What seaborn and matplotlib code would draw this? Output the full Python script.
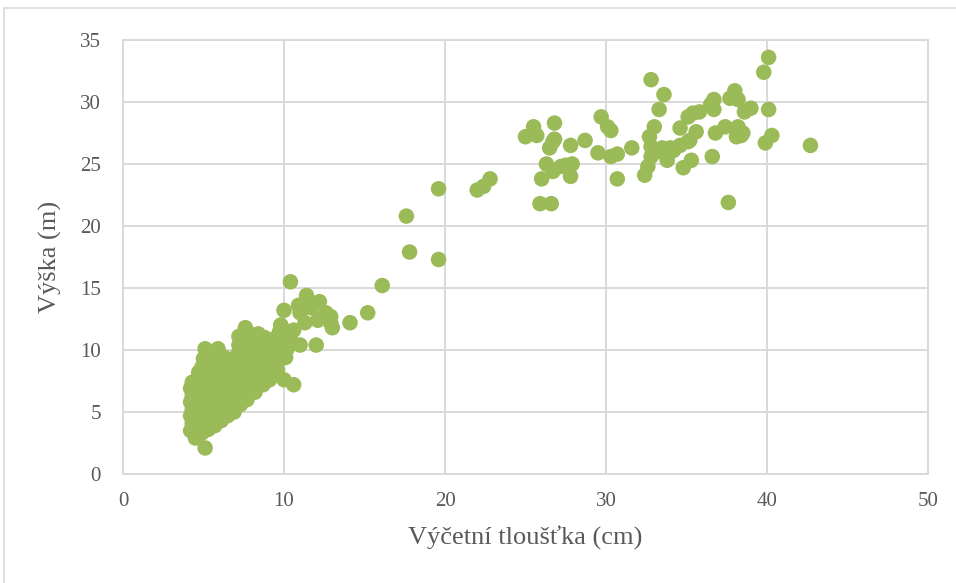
import matplotlib
matplotlib.use("Agg")
import matplotlib.pyplot as plt
from matplotlib.patches import Rectangle
import pandas as pd
import seaborn as sns

# Diameter at breast height (cm) and tree height (m), grouped by size class
dbh_small = [
    4.2, 4.3, 4.2, 4.3, 4.2, 4.3, 4.2, 4.3,
    4.5, 4.6, 4.5, 4.6, 4.5, 4.6, 4.5, 4.6, 4.7,
    5.1, 4.9, 5.0, 4.9, 5.0, 4.9, 5.0, 4.9, 5.0, 4.9, 5.0, 5.1,
    5.3, 5.4, 5.3, 5.4, 5.3, 5.4, 5.3, 5.4, 5.3, 5.4,
    5.7, 5.8, 5.7, 5.8, 5.7, 5.8, 5.7, 5.8, 5.7, 5.9,
    6.1, 6.2, 6.1, 6.2, 6.1, 6.2, 6.1, 6.2, 6.3,
    6.5, 6.6, 6.5, 6.6, 6.5, 6.6, 6.5, 6.7,
    6.9, 7.0, 6.9, 7.0, 6.9, 7.0, 6.9, 7.1, 7.2, 7.2,
    7.3, 7.4, 7.3, 7.4, 7.3, 7.4, 7.5, 7.4, 7.6, 7.6,
    7.7, 7.8, 7.7, 7.8, 7.7, 7.9, 7.8, 8.0, 8.1,
    8.2, 8.3, 8.2, 8.3, 8.2, 8.4, 8.3, 8.4,
    8.7, 8.8, 8.7, 8.8, 8.7, 8.9, 8.8,
    9.1, 9.2, 9.1, 9.3, 9.2, 9.3,
    9.6, 9.7, 9.6, 9.8, 9.7, 9.8,
    10.0, 10.1, 10.2, 10.4, 10.1, 10.6,
]
height_small = [
    3.5, 4.1, 4.7, 5.2, 5.8, 6.3, 6.9, 7.4,
    2.9, 3.8, 4.4, 5.0, 5.6, 6.2, 6.8, 7.5, 8.2,
    2.1, 3.3, 4.0, 4.6, 5.3, 5.9, 6.5, 7.1, 7.8, 8.6, 9.3, 10.1,
    3.6, 4.3, 4.9, 5.6, 6.2, 6.9, 7.5, 8.2, 8.8, 9.5,
    3.9, 4.6, 5.2, 5.9, 6.5, 7.1, 7.8, 8.5, 9.1, 10.1,
    4.3, 5.0, 5.6, 6.2, 6.9, 7.5, 8.1, 8.8, 9.4,
    4.7, 5.3, 5.9, 6.6, 7.2, 7.9, 8.5, 9.1,
    5.0, 5.7, 6.3, 6.9, 7.6, 8.2, 8.9, 9.6, 10.4, 11.1,
    5.6, 6.2, 6.8, 7.5, 8.1, 8.8, 9.5, 10.1, 10.8, 11.8,
    6.0, 6.6, 7.3, 7.9, 8.6, 9.3, 9.9, 10.6, 11.2,
    6.6, 7.2, 7.9, 8.5, 9.2, 9.8, 10.5, 11.3,
    7.2, 7.8, 8.4, 9.1, 9.7, 10.3, 11.0,
    7.6, 8.2, 8.9, 9.5, 10.2, 10.8,
    8.4, 9.2, 9.9, 10.6, 11.4, 12.0,
    7.6, 9.4, 10.1, 10.8, 11.5, 7.2,
]

dbh_mid = [
    10.0, 10.4, 10.9, 11.4, 11.7, 12.2, 11.0, 12.6, 12.9, 12.9,
    13.0, 12.1, 11.3, 10.6, 9.8, 10.1, 11.0, 10.4, 9.3, 12.0,
    14.1, 15.2, 16.1, 17.6, 17.8, 19.6, 19.6, 22.0, 22.4, 22.8,
]
height_mid = [
    13.2, 15.5, 13.6, 14.4, 13.4, 13.9, 13.0, 13.0, 12.7, 12.2,
    11.8, 12.4, 12.2, 11.6, 12.0, 11.5, 10.4, 10.8, 10.8, 10.4,
    12.2, 13.0, 15.2, 20.8, 17.9, 23.0, 17.3, 22.9, 23.2, 23.8,
]

dbh_large = [
    40.1, 39.8, 32.8, 33.6, 38.0, 37.7, 38.2, 36.7, 36.5, 33.3,
    39.0, 40.1, 35.8, 35.4, 35.1, 38.6, 29.7, 30.1, 30.3, 33.0,
    34.6, 35.6, 36.8, 37.4, 38.2, 38.4, 38.1, 40.3, 39.9, 26.8,
    25.5, 25.7, 25.0, 26.8, 26.5, 27.8, 28.7, 31.6, 32.8, 33.5,
    34.0, 34.6, 35.1, 42.7, 29.5, 30.3, 30.7, 32.8, 33.8, 35.3,
    36.6, 26.3, 27.2, 27.9, 26.7, 32.6, 34.8, 27.8, 26.0, 30.7,
    32.4, 25.9, 26.6, 37.6, 26.7, 32.7, 33.4, 34.2, 35.2, 36.7,
    38.5, 27.5,
]
height_large = [
    33.6, 32.4, 31.8, 30.6, 30.9, 30.3, 30.2, 30.2, 29.8, 29.4,
    29.5, 29.4, 29.2, 29.1, 28.8, 29.2, 28.8, 28.0, 27.7, 28.0,
    27.9, 27.6, 27.5, 28.0, 28.0, 27.3, 27.2, 27.3, 26.7, 28.3,
    28.0, 27.3, 27.2, 27.0, 26.3, 26.5, 26.9, 26.3, 26.4, 26.3,
    26.3, 26.5, 26.8, 26.5, 25.9, 25.6, 25.8, 25.6, 25.3, 25.3,
    25.6, 25.0, 24.8, 25.0, 24.4, 24.8, 24.7, 24.0, 23.8, 23.8,
    24.1, 21.8, 21.8, 21.9, 26.8, 27.2, 26.0, 26.1, 26.9, 29.4,
    27.5, 24.9,
]

x_ticks = [0, 10, 20, 30, 40, 50]
y_ticks = [0, 5, 10, 15, 20, 25, 30, 35]
x_label = "Výčetní tloušťka (cm)"
y_label = "Výška (m)"

trees = pd.DataFrame({
    "dbh": dbh_small + dbh_mid + dbh_large,
    "height": height_small + height_mid + height_large,
})

sns.set_theme(style="white")
plt.rcParams["font.family"] = ["Liberation Serif", "DejaVu Serif"]

grid_col = "#d9d9d9"
text_col = "#595959"
marker_col = "#9bbb59"

fig = plt.figure(figsize=(9.56, 5.83), dpi=100)
fig.patch.set_facecolor("white")

# outer chart frame (left and top edges visible)
fig.add_artist(Rectangle((4 / 956, -0.5), 2.0, (583 - 8) / 583 + 0.5,
                         transform=fig.transFigure, fill=False,
                         edgecolor=grid_col, linewidth=1.2))

ax = fig.add_axes([123 / 956, (583 - 474) / 583, (928 - 123) / 956, (474 - 40) / 583])

sns.scatterplot(data=trees, x="dbh", y="height", ax=ax, s=125,
                color=marker_col, edgecolor="none", linewidth=0, zorder=3)

ax.set_xlim(0, 50)
ax.set_ylim(0, 35)
ax.set_xticks(x_ticks)
ax.set_yticks(y_ticks)
ax.grid(True, color=grid_col, linewidth=1.4, zorder=0)
ax.set_axisbelow(True)
for side in ["left", "right", "top", "bottom"]:
    ax.spines[side].set_visible(True)
    ax.spines[side].set_color(grid_col)
    ax.spines[side].set_linewidth(1.4)
ax.tick_params(axis="both", length=0, labelsize=15, labelcolor=text_col)
ax.tick_params(axis="x", pad=13)
ax.tick_params(axis="y", pad=16)

ax.set_xlabel(x_label, fontsize=19, color=text_col, labelpad=10)
ax.set_ylabel(y_label, fontsize=19, color=text_col, labelpad=13)

fig.savefig("out.png", dpi=100, facecolor="white")
